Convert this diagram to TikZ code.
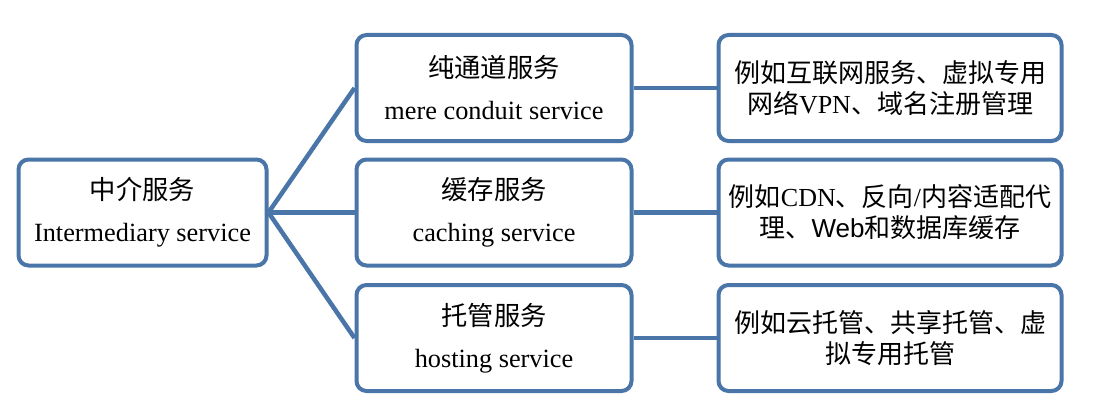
\documentclass[tikz,border=0pt]{standalone}
\usepackage{fontspec}
\setmainfont{Liberation Serif}
\newfontfamily\cjk{Noto Sans CJK SC}
\newfontfamily\websans{Liberation Sans}
\newcommand\zh[1]{{\cjk #1}}
\definecolor{edgeblue}{HTML}{4A75A8}
\begin{document}
\begin{tikzpicture}[x=1pt,y=-1pt,
  box/.style={draw=edgeblue, line width=4pt, rounded corners=10pt, fill=white,
    align=center, inner sep=0pt, minimum height=106pt},
  twoline/.style={font=\fontsize{26.3}{30}\selectfont},
  example/.style={font=\fontsize{26}{31}\selectfont, minimum width=343pt},
  conn/.style={draw=edgeblue, line width=4.5pt}]
\useasboundingbox (0,0) rectangle (1108,420);
\fill[white] (0,0) rectangle (1108,420);

\node[box, twoline, minimum width=248pt] (L) at (142.5,212.5)
  {\zh{中介服务}\\[12pt]Intermediary service};

\node[box, twoline, minimum width=275pt] (M1) at (494,88)
  {\zh{纯通道服务}\\[12pt]mere conduit service};
\node[box, twoline, minimum width=275pt] (M2) at (494,212.5)
  {\zh{缓存服务}\\[12pt]caching service};
\node[box, twoline, minimum width=275pt] (M3) at (494,338)
  {\zh{托管服务}\\[12pt]hosting service};

\node[box, example] (R1) at (890,88)
  {\zh{例如互联网服务、虚拟专用}\\\zh{网络}VPN\zh{、域名注册管理}};
\node[box, example] (R2) at (890,212.5)
  {\zh{例如}CDN\zh{、反向}/\zh{内容适配代}\\\zh{理、}{\websans Web}\zh{和数据库缓存}};
\node[box, example] (R3) at (890,338)
  {\zh{例如云托管、共享托管、虚}\\\zh{拟专用托管}};

\draw[conn] (L.east) -- (M1.west);
\draw[conn] (L.east) -- (M2.west);
\draw[conn] (L.east) -- (M3.west);
\draw[conn] (M1.east) -- (R1.west);
\draw[conn] (M2.east) -- (R2.west);
\draw[conn] (M3.east) -- (R3.west);
\end{tikzpicture}
\end{document}
